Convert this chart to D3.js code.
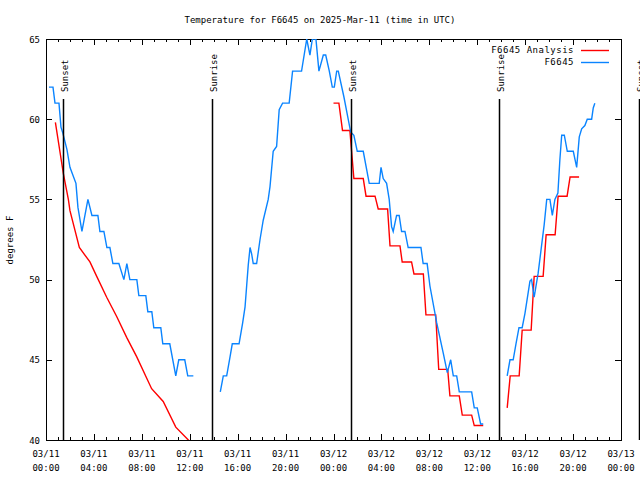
<!DOCTYPE html>
<html>
<head>
<meta charset="utf-8">
<script src="https://cdn.jsdelivr.net/npm/d3@7"></script>
<style>
  html, body { margin: 0; padding: 0; background: #fff; }
  svg { display: block; }
  text { font-family: "DejaVu Sans Mono", "Liberation Mono", monospace; font-size: 9px; fill: #000; }
</style>
</head>
<body>
<svg id="chart" width="640" height="480"></svg>
<script>
// ---------- data (times are 2025-03-DD HH:MM UTC) ----------
const chartTitle = "Temperature for F6645 on 2025-Mar-11 (time in UTC)";
const yLabel = "degrees F";
const seriesNames = ["F6645 Analysis", "F6645"];
const yTicks = [40, 45, 50, 55, 60, 65];
const xTickStart = "11 00:00";
const xTickEnd = "13 00:00";

const sunsetTimes = ["11 01:27", "12 01:26", "13 01:28"];
const sunriseTimes = ["11 13:49", "12 13:47"];

// Analysis (red), three pieces
const ana1Times = ["11 00:47","11 01:27","11 01:52","11 02:00","11 02:47","11 03:40","11 04:14","11 05:04","11 05:54","11 06:44","11 07:34","11 08:49","11 09:47","11 10:50","11 11:53","11 12:01"];
const ana1Temps = [59.8, 56.6, 55, 54.3, 52, 51.1, 50.2, 48.9, 47.7, 46.4, 45.2, 43.2, 42.4, 40.8, 40.0, 39.9];

const ana2Times = ["12 00:00","12 00:27","12 00:45","12 01:22","12 01:42","12 02:29","12 02:43","12 03:28","12 03:44","12 04:31","12 04:43","12 05:33","12 05:44","12 06:31","12 06:43","12 07:30","12 07:43","12 08:32","12 08:47","12 09:32","12 09:43","12 10:30","12 10:45","12 11:32","12 11:45","12 12:30"];
const ana2Temps = [61, 61, 59.3, 59.3, 56.3, 56.3, 55.2, 55.2, 54.4, 54.4, 52.1, 52.1, 51.1, 51.1, 50.35, 50.35, 47.8, 47.8, 44.4, 44.4, 42.75, 42.75, 41.55, 41.55, 40.9, 40.9];

const ana3Times = ["12 14:30","12 14:45","12 15:30","12 15:45","12 16:30","12 16:45","12 17:30","12 17:45","12 18:30","12 18:45","12 19:30","12 19:45","12 20:30"];
const ana3Temps = [42, 44, 44, 46.85, 46.85, 50.2, 50.2, 52.8, 52.8, 55.2, 55.2, 56.4, 56.4];

// Observations (blue), three pieces
const obs1Times = ["11 00:15","11 00:35","11 00:45","11 01:05","11 01:15","11 01:25","11 01:45","11 02:00","11 02:30","11 02:40","11 03:00","11 03:30","11 03:50","11 04:20","11 04:30","11 04:50","11 05:05","11 05:20","11 05:35","11 06:05","11 06:30","11 06:45","11 07:00","11 07:35","11 07:45","11 08:20","11 08:30","11 08:50","11 09:00","11 09:35","11 09:45","11 10:20","11 10:50","11 11:05","11 11:35","11 11:50","11 12:18"];
const obs1Temps = [62, 62, 61, 61, 59.5, 59.1, 58.1, 57, 56, 54.5, 53, 55, 54, 54, 53, 53, 52, 52, 51, 51, 50, 51, 50, 50, 49, 49, 48, 48, 47, 47, 46, 46, 44, 45, 45, 44, 44];

const obs2Times = ["11 14:33","11 14:48","11 15:05","11 15:22","11 15:33","11 16:07","11 16:25","11 16:37","11 16:45","11 16:53","11 17:02","11 17:10","11 17:18","11 17:35","11 17:52","11 18:08","11 18:33","11 18:42","11 18:58","11 19:15","11 19:28","11 19:45","11 20:18","11 20:35","11 21:20","11 21:46","11 22:02","11 22:14","11 22:32","11 22:47","11 23:09","11 23:21","11 23:39","11 23:54","12 00:04","12 00:16","12 00:24","12 00:52","12 01:26","12 01:42","12 01:59","12 02:29","12 02:59","12 03:49","12 03:58","12 04:09","12 04:26","12 04:39","12 04:51","12 04:59","12 05:16","12 05:29","12 05:41","12 05:58","12 06:14","12 07:18","12 07:29","12 07:49","12 08:03","12 08:37","12 09:10","12 09:30","12 09:47","12 10:00","12 10:17","12 10:30","12 11:32","12 11:45","12 12:00","12 12:17","12 12:30"];
const obs2Temps = [43, 44, 44, 45.2, 46, 46, 47.3, 48.3, 49.6, 50.9, 52, 51.6, 51, 51, 52.5, 53.7, 55, 55.8, 58, 58.3, 60.6, 61, 61, 63, 63, 65, 64, 65, 65, 63, 64, 64, 63, 62, 62, 63, 63, 61.4, 59.2, 59, 58, 58, 56, 56, 57, 56.3, 56, 55, 53.3, 53, 54, 54, 53, 53, 52, 52, 51, 51, 49.6, 47.3, 45.4, 44.2, 45, 44, 44, 43, 43, 42, 42, 41, 41];

const obs3Times = ["12 14:30","12 14:44","12 15:00","12 15:14","12 15:29","12 15:45","12 15:59","12 16:24","12 16:32","12 16:45","12 17:05","12 17:22","12 17:35","12 17:48","12 18:04","12 18:16","12 18:29","12 18:44","12 18:54","12 19:03","12 19:16","12 19:31","12 20:01","12 20:18","12 20:31","12 20:43","12 20:59","12 21:11","12 21:33","12 21:41","12 21:49"];
const obs3Temps = [44, 45, 45, 46, 47, 47, 47.9, 49.9, 50, 48.9, 50.4, 52.1, 53.4, 55, 55, 54, 55, 55.4, 57.5, 59, 59, 58, 58, 57, 58.9, 59.4, 59.6, 60, 60, 60.7, 61];

// ---------- drawing ----------
const parse = d3.utcParse("%Y-%m-%d %H:%M");
const T = s => parse("2025-03-" + s);
const zip = (ts, vs) => ts.map((t, i) => ({ t: T(t), v: vs[i] }));

const svg = d3.select("#chart");
const m = { left: 46, right: 621, top: 39, bottom: 440 };

const x = d3.scaleUtc().domain([T(xTickStart), T(xTickEnd)]).range([m.left, m.right]);
const y = d3.scaleLinear().domain([yTicks[0], yTicks[yTicks.length - 1]]).range([m.bottom, m.top]);

svg.append("defs").append("clipPath").attr("id", "clip")
  .append("rect").attr("x", m.left).attr("y", m.top)
  .attr("width", m.right - m.left).attr("height", m.bottom - m.top);

const majorX = d3.utcHour.every(4).range(T(xTickStart), d3.utcMinute.offset(T(xTickEnd), 1));
const minorX = d3.utcHour.every(1).range(T(xTickStart), d3.utcMinute.offset(T(xTickEnd), 1));

const fmtDate = d3.utcFormat("%m/%d");
const fmtTime = d3.utcFormat("%H:%M");

function tickAxis(axis, tx, ty, values, size) {
  const g = svg.append("g").attr("transform", `translate(${tx},${ty})`)
    .call(axis.tickValues(values).tickSize(size).tickFormat(""));
  g.select(".domain").remove();
  g.selectAll("line").attr("stroke", "#000").attr("shape-rendering", "crispEdges");
  return g;
}
tickAxis(d3.axisBottom(x), 0, m.bottom, majorX, -6);
tickAxis(d3.axisBottom(x), 0, m.bottom, minorX, -3);
tickAxis(d3.axisTop(x), 0, m.top, majorX, -6);
tickAxis(d3.axisTop(x), 0, m.top, minorX, -3);
tickAxis(d3.axisRight(y), m.right, 0, yTicks, -6);

// x tick labels (two lines)
const xl = svg.append("g");
majorX.forEach(d => {
  const t = xl.append("text").attr("text-anchor", "middle")
    .attr("x", x(d)).attr("y", 457);
  t.append("tspan").attr("x", x(d)).attr("dy", 0).text(fmtDate(d));
  t.append("tspan").attr("x", x(d)).attr("dy", 14).text(fmtTime(d));
});

const gy = svg.append("g").attr("transform", `translate(${m.left},0)`)
  .call(d3.axisLeft(y).tickValues(yTicks).tickSize(-6).tickFormat(d3.format("d")));
gy.select(".domain").remove();
gy.selectAll("line").attr("stroke", "#000").attr("shape-rendering", "crispEdges");
gy.selectAll("text").attr("font-size", 9).attr("font-family", null).attr("dy", "0.35em").attr("x", -6);

// border
svg.append("rect").attr("x", m.left + 0.5).attr("y", m.top + 0.5)
  .attr("width", m.right - m.left).attr("height", m.bottom - m.top)
  .attr("fill", "none").attr("stroke", "#000").attr("stroke-width", 1)
  .attr("shape-rendering", "crispEdges");

// title and y label
svg.append("text").attr("x", 320).attr("y", 23).attr("text-anchor", "middle").text(chartTitle);
svg.append("text").attr("transform", "translate(13,240) rotate(-90)")
  .attr("text-anchor", "middle").text(yLabel);

// data lines
const line = d3.line().x(d => x(d.t)).y(d => y(d.v));
const dataG = svg.append("g").attr("clip-path", "url(#clip)");
const redSegs = [zip(ana1Times, ana1Temps), zip(ana2Times, ana2Temps), zip(ana3Times, ana3Temps)];
const blueSegs = [zip(obs1Times, obs1Temps), zip(obs2Times, obs2Temps), zip(obs3Times, obs3Temps)];
const red = "#ff0000", blue = "#0a84ff";
dataG.selectAll(".red").data(redSegs).join("path").attr("class", "red")
  .attr("d", line).attr("fill", "none").attr("stroke", red).attr("stroke-width", 1.4);
dataG.selectAll(".blue").data(blueSegs).join("path").attr("class", "blue")
  .attr("d", line).attr("fill", "none").attr("stroke", blue).attr("stroke-width", 1.4);

// sunrise / sunset markers
const sunEvents = sunsetTimes.map(t => ({ t: T(t), label: "Sunset" }))
  .concat(sunriseTimes.map(t => ({ t: T(t), label: "Sunrise" })));
const sunG = svg.append("g");
sunEvents.forEach(e => {
  const xx = Math.round(x(e.t)) + 0.5;
  sunG.append("line").attr("x1", xx).attr("x2", xx).attr("y1", 99).attr("y2", m.bottom)
    .attr("stroke", "#000").attr("stroke-width", 1.5);
  sunG.append("text").attr("transform", `translate(${xx + 4.5},92) rotate(-90)`)
    .attr("text-anchor", "start").text(e.label);
});

// legend
const leg = svg.append("g");
[[seriesNames[0], red, 50], [seriesNames[1], blue, 62]].forEach(([name, col, yy]) => {
  leg.append("text").attr("x", 574).attr("y", yy).attr("dy", "0.35em")
    .attr("text-anchor", "end").attr("letter-spacing", "0.5px").text(name);
  leg.append("line").attr("x1", 581).attr("x2", 609).attr("y1", yy + 0.5).attr("y2", yy + 0.5)
    .attr("stroke", col).attr("stroke-width", 1.4);
});
</script>
</body>
</html>
